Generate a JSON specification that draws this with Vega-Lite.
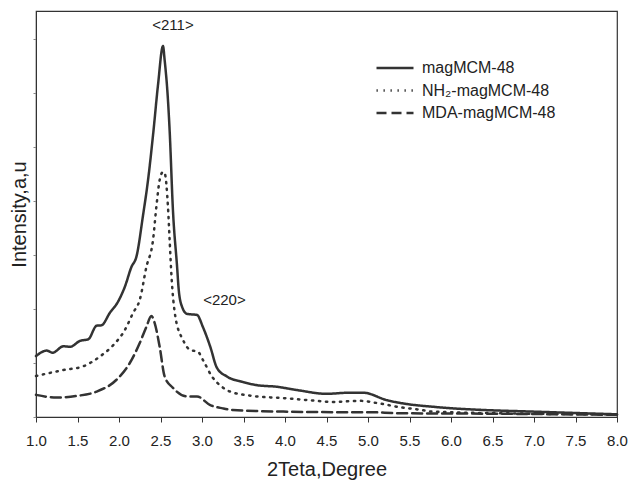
{
  "$schema": "https://vega.github.io/schema/vega-lite/v6.json",
  "width": 581,
  "height": 406,
  "autosize": "none",
  "padding": {"left": 36, "top": 11, "right": 13, "bottom": 66},
  "background": "white",
  "config": {
    "view": {"stroke": "#333", "strokeWidth": 1.2},
    "font": "Liberation Sans",
    "axis": {"grid": false, "domainColor": "#333", "tickColor": "#333", "labelColor": "#222", "titleColor": "#222", "titleFontWeight": "normal", "labelFont": "Liberation Sans", "titleFont": "Liberation Sans"}
  },
  "layer": [
    {
      "data": {"values": [
        {"theta": 1.00, "intensity": 1.13, "series": "magMCM-48"},
        {"theta": 1.13, "intensity": 1.23, "series": "magMCM-48"},
        {"theta": 1.20, "intensity": 1.19, "series": "magMCM-48"},
        {"theta": 1.33, "intensity": 1.31, "series": "magMCM-48"},
        {"theta": 1.41, "intensity": 1.30, "series": "magMCM-48"},
        {"theta": 1.53, "intensity": 1.41, "series": "magMCM-48"},
        {"theta": 1.63, "intensity": 1.44, "series": "magMCM-48"},
        {"theta": 1.73, "intensity": 1.69, "series": "magMCM-48"},
        {"theta": 1.79, "intensity": 1.70, "series": "magMCM-48"},
        {"theta": 1.89, "intensity": 1.93, "series": "magMCM-48"},
        {"theta": 1.99, "intensity": 2.14, "series": "magMCM-48"},
        {"theta": 2.07, "intensity": 2.41, "series": "magMCM-48"},
        {"theta": 2.15, "intensity": 2.78, "series": "magMCM-48"},
        {"theta": 2.21, "intensity": 2.97, "series": "magMCM-48"},
        {"theta": 2.29, "intensity": 3.74, "series": "magMCM-48"},
        {"theta": 2.35, "intensity": 4.39, "series": "magMCM-48"},
        {"theta": 2.41, "intensity": 5.22, "series": "magMCM-48"},
        {"theta": 2.47, "intensity": 6.15, "series": "magMCM-48"},
        {"theta": 2.53, "intensity": 6.87, "series": "magMCM-48"},
        {"theta": 2.55, "intensity": 6.61, "series": "magMCM-48"},
        {"theta": 2.59, "intensity": 5.87, "series": "magMCM-48"},
        {"theta": 2.61, "intensity": 5.31, "series": "magMCM-48"},
        {"theta": 2.65, "intensity": 3.83, "series": "magMCM-48"},
        {"theta": 2.70, "intensity": 2.78, "series": "magMCM-48"},
        {"theta": 2.72, "intensity": 2.35, "series": "magMCM-48"},
        {"theta": 2.76, "intensity": 2.04, "series": "magMCM-48"},
        {"theta": 2.82, "intensity": 1.91, "series": "magMCM-48"},
        {"theta": 2.94, "intensity": 1.89, "series": "magMCM-48"},
        {"theta": 3.01, "intensity": 1.67, "series": "magMCM-48"},
        {"theta": 3.10, "intensity": 1.30, "series": "magMCM-48"},
        {"theta": 3.18, "intensity": 0.91, "series": "magMCM-48"},
        {"theta": 3.30, "intensity": 0.75, "series": "magMCM-48"},
        {"theta": 3.49, "intensity": 0.65, "series": "magMCM-48"},
        {"theta": 3.66, "intensity": 0.59, "series": "magMCM-48"},
        {"theta": 3.90, "intensity": 0.56, "series": "magMCM-48"},
        {"theta": 4.14, "intensity": 0.50, "series": "magMCM-48"},
        {"theta": 4.50, "intensity": 0.43, "series": "magMCM-48"},
        {"theta": 4.78, "intensity": 0.45, "series": "magMCM-48"},
        {"theta": 4.94, "intensity": 0.45, "series": "magMCM-48"},
        {"theta": 5.23, "intensity": 0.31, "series": "magMCM-48"},
        {"theta": 5.47, "intensity": 0.24, "series": "magMCM-48"},
        {"theta": 5.78, "intensity": 0.19, "series": "magMCM-48"},
        {"theta": 6.02, "intensity": 0.16, "series": "magMCM-48"},
        {"theta": 6.39, "intensity": 0.13, "series": "magMCM-48"},
        {"theta": 6.99, "intensity": 0.10, "series": "magMCM-48"},
        {"theta": 7.59, "intensity": 0.07, "series": "magMCM-48"},
        {"theta": 8.00, "intensity": 0.05, "series": "magMCM-48"},

        {"theta": 1.00, "intensity": 0.76, "series": "NH₂-magMCM-48"},
        {"theta": 1.33, "intensity": 0.87, "series": "NH₂-magMCM-48"},
        {"theta": 1.57, "intensity": 0.94, "series": "NH₂-magMCM-48"},
        {"theta": 1.77, "intensity": 1.12, "series": "NH₂-magMCM-48"},
        {"theta": 1.93, "intensity": 1.33, "series": "NH₂-magMCM-48"},
        {"theta": 2.07, "intensity": 1.61, "series": "NH₂-magMCM-48"},
        {"theta": 2.17, "intensity": 1.93, "series": "NH₂-magMCM-48"},
        {"theta": 2.25, "intensity": 2.17, "series": "NH₂-magMCM-48"},
        {"theta": 2.33, "intensity": 2.78, "series": "NH₂-magMCM-48"},
        {"theta": 2.41, "intensity": 3.28, "series": "NH₂-magMCM-48"},
        {"theta": 2.45, "intensity": 3.89, "series": "NH₂-magMCM-48"},
        {"theta": 2.49, "intensity": 4.39, "series": "NH₂-magMCM-48"},
        {"theta": 2.53, "intensity": 4.54, "series": "NH₂-magMCM-48"},
        {"theta": 2.55, "intensity": 4.52, "series": "NH₂-magMCM-48"},
        {"theta": 2.59, "intensity": 3.89, "series": "NH₂-magMCM-48"},
        {"theta": 2.61, "intensity": 3.28, "series": "NH₂-magMCM-48"},
        {"theta": 2.63, "intensity": 2.67, "series": "NH₂-magMCM-48"},
        {"theta": 2.68, "intensity": 1.85, "series": "NH₂-magMCM-48"},
        {"theta": 2.77, "intensity": 1.43, "series": "NH₂-magMCM-48"},
        {"theta": 2.86, "intensity": 1.24, "series": "NH₂-magMCM-48"},
        {"theta": 2.95, "intensity": 1.21, "series": "NH₂-magMCM-48"},
        {"theta": 3.01, "intensity": 1.06, "series": "NH₂-magMCM-48"},
        {"theta": 3.12, "intensity": 0.75, "series": "NH₂-magMCM-48"},
        {"theta": 3.24, "intensity": 0.56, "series": "NH₂-magMCM-48"},
        {"theta": 3.34, "intensity": 0.47, "series": "NH₂-magMCM-48"},
        {"theta": 3.61, "intensity": 0.39, "series": "NH₂-magMCM-48"},
        {"theta": 3.98, "intensity": 0.35, "series": "NH₂-magMCM-48"},
        {"theta": 4.30, "intensity": 0.31, "series": "NH₂-magMCM-48"},
        {"theta": 4.58, "intensity": 0.28, "series": "NH₂-magMCM-48"},
        {"theta": 4.90, "intensity": 0.30, "series": "NH₂-magMCM-48"},
        {"theta": 5.14, "intensity": 0.25, "series": "NH₂-magMCM-48"},
        {"theta": 5.39, "intensity": 0.18, "series": "NH₂-magMCM-48"},
        {"theta": 5.60, "intensity": 0.14, "series": "NH₂-magMCM-48"},
        {"theta": 5.78, "intensity": 0.10, "series": "NH₂-magMCM-48"},
        {"theta": 6.59, "intensity": 0.07, "series": "NH₂-magMCM-48"},
        {"theta": 8.00, "intensity": 0.05, "series": "NH₂-magMCM-48"},

        {"theta": 1.00, "intensity": 0.41, "series": "MDA-magMCM-48"},
        {"theta": 1.25, "intensity": 0.36, "series": "MDA-magMCM-48"},
        {"theta": 1.49, "intensity": 0.39, "series": "MDA-magMCM-48"},
        {"theta": 1.73, "intensity": 0.47, "series": "MDA-magMCM-48"},
        {"theta": 1.97, "intensity": 0.69, "series": "MDA-magMCM-48"},
        {"theta": 2.13, "intensity": 1.00, "series": "MDA-magMCM-48"},
        {"theta": 2.25, "intensity": 1.37, "series": "MDA-magMCM-48"},
        {"theta": 2.33, "intensity": 1.67, "series": "MDA-magMCM-48"},
        {"theta": 2.39, "intensity": 1.87, "series": "MDA-magMCM-48"},
        {"theta": 2.43, "intensity": 1.74, "series": "MDA-magMCM-48"},
        {"theta": 2.49, "intensity": 1.30, "series": "MDA-magMCM-48"},
        {"theta": 2.55, "intensity": 0.75, "series": "MDA-magMCM-48"},
        {"theta": 2.65, "intensity": 0.54, "series": "MDA-magMCM-48"},
        {"theta": 2.82, "intensity": 0.38, "series": "MDA-magMCM-48"},
        {"theta": 2.94, "intensity": 0.38, "series": "MDA-magMCM-48"},
        {"theta": 3.10, "intensity": 0.22, "series": "MDA-magMCM-48"},
        {"theta": 3.25, "intensity": 0.16, "series": "MDA-magMCM-48"},
        {"theta": 3.37, "intensity": 0.13, "series": "MDA-magMCM-48"},
        {"theta": 3.98, "intensity": 0.10, "series": "MDA-magMCM-48"},
        {"theta": 4.58, "intensity": 0.09, "series": "MDA-magMCM-48"},
        {"theta": 4.98, "intensity": 0.09, "series": "MDA-magMCM-48"},
        {"theta": 5.39, "intensity": 0.07, "series": "MDA-magMCM-48"},
        {"theta": 6.59, "intensity": 0.06, "series": "MDA-magMCM-48"},
        {"theta": 8.00, "intensity": 0.04, "series": "MDA-magMCM-48"}
      ]},
      "mark": {"type": "line", "color": "#333", "strokeWidth": 2.5, "strokeCap": "round", "interpolate": "monotone"},
      "encoding": {
        "x": {"field": "theta", "type": "quantitative",
              "scale": {"domain": [1, 8], "nice": false, "zero": false},
              "axis": {"title": "2Teta,Degree", "titleFontSize": 20, "titlePadding": 11, "labelFontSize": 15, "labelPadding": 11, "tickSize": 5, "values": [1, 1.5, 2, 2.5, 3, 3.5, 4, 4.5, 5, 5.5, 6, 6.5, 7, 7.5, 8], "format": ".1f", "labelFlush": false}},
        "y": {"field": "intensity", "type": "quantitative",
              "scale": {"domain": [0, 7.52], "nice": false},
              "axis": {"title": "Intensity,a,u", "titleFontSize": 20, "titlePadding": 3, "labels": false, "tickSize": 3, "values": [0, 1, 2, 3, 4, 5, 6, 7], "tickColor": "#888"}},
        "strokeDash": {"field": "series", "type": "nominal",
              "scale": {"domain": ["magMCM-48", "NH₂-magMCM-48", "MDA-magMCM-48"], "range": [[1, 0], [1.3, 5.7], [10, 5]]},
              "legend": {"title": null, "orient": "none", "legendX": 339, "legendY": 47, "padding": 0, "symbolType": "stroke", "symbolSize": 1369, "clipHeight": 20, "symbolStrokeWidth": 2.5, "symbolStrokeColor": "#333", "labelFontSize": 16, "labelColor": "#222", "labelOffset": 7, "rowPadding": 2.5}}
      }
    },
    {
      "data": {"values": [
        {"label": "<211>", "theta": 2.65, "intensity": 7.26},
        {"label": "<220>", "theta": 3.27, "intensity": 2.17}
      ]},
      "mark": {"type": "text", "fontSize": 15, "color": "#222", "align": "center", "baseline": "middle"},
      "encoding": {
        "x": {"field": "theta", "type": "quantitative"},
        "y": {"field": "intensity", "type": "quantitative"},
        "text": {"field": "label"}
      }
    }
  ]
}
